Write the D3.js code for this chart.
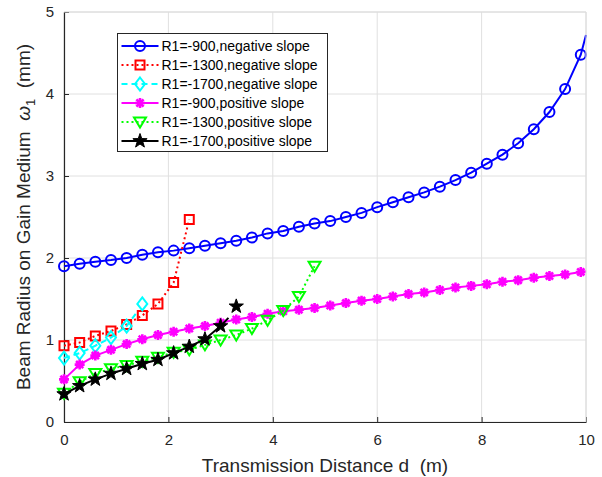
<!DOCTYPE html>
<html>
<head>
<meta charset="utf-8">
<script src="https://cdn.jsdelivr.net/npm/d3@7"></script>
<style>
  body { margin: 0; background: #fff; }
  svg { display: block; font-family: "Liberation Sans", Arial, Helvetica, sans-serif; }
</style>
</head>
<body>
<svg id="chart" width="602" height="477"></svg>
<script>
// transmission distance grid (m)
var dLong = [0, 0.3, 0.6, 0.9, 1.2, 1.5, 1.8, 2.1, 2.4, 2.7, 3.0, 3.3, 3.6, 3.9, 4.2, 4.5, 4.8,
  5.1, 5.4, 5.7, 6.0, 6.3, 6.6, 6.9, 7.2, 7.5, 7.8, 8.1, 8.4, 8.7, 9.0, 9.3, 9.6, 9.9];
var dRed = [0, 0.3, 0.6, 0.9, 1.2, 1.5, 1.8, 2.1, 2.4];
var dCyan = [0, 0.3, 0.6, 0.9, 1.2, 1.5];
var dGreen = [0, 0.3, 0.6, 0.9, 1.2, 1.5, 1.8, 2.1, 2.4, 2.7, 3.0, 3.3, 3.6, 3.9, 4.2, 4.5, 4.8];
var dBlack = [0, 0.3, 0.6, 0.9, 1.2, 1.5, 1.8, 2.1, 2.4, 2.7, 3.0, 3.3];

// beam radius (mm)
var w900neg = [1.90, 1.93, 1.955, 1.975, 2.00, 2.04, 2.07, 2.09, 2.12, 2.15, 2.18, 2.21, 2.25, 2.30,
  2.33, 2.38, 2.42, 2.45, 2.50, 2.55, 2.62, 2.68, 2.74, 2.80, 2.87, 2.95, 3.04, 3.15, 3.26, 3.40,
  3.57, 3.78, 4.06, 4.48];
var w1300neg = [0.93, 0.97, 1.05, 1.11, 1.19, 1.30, 1.44, 1.70, 2.47];
var w1700neg = [0.78, 0.84, 0.93, 1.03, 1.17, 1.44];
var w900pos = [0.52, 0.70, 0.81, 0.88, 0.95, 1.01, 1.06, 1.10, 1.14, 1.17, 1.21, 1.25, 1.28, 1.32,
  1.35, 1.37, 1.39, 1.42, 1.45, 1.48, 1.50, 1.53, 1.56, 1.58, 1.61, 1.64, 1.66, 1.68, 1.71, 1.73,
  1.76, 1.78, 1.80, 1.83];
var w1300pos = [0.35, 0.49, 0.59, 0.65, 0.69, 0.74, 0.79, 0.85, 0.88, 0.94, 1.00, 1.06, 1.14, 1.24,
  1.36, 1.53, 1.90];
var w1700pos = [0.34, 0.44, 0.52, 0.59, 0.65, 0.71, 0.76, 0.84, 0.92, 1.01, 1.17, 1.41];

// where each line stops (d, w); markerOnly = last marker not joined to the line
var tail900neg = [10, 4.72];
var tail1700neg = [1.41, 1.35];
var tail900pos = [10, 1.84];
var tail1700pos = [3.15, 1.27];

var legendNames = ['R1=-900,negative slope', 'R1=-1300,negative slope', 'R1=-1700,negative slope',
  'R1=-900,positive slope', 'R1=-1300,positive slope', 'R1=-1700,positive slope'];
var xTicks = [0, 2, 4, 6, 8, 10];
var yTicks = [0, 1, 2, 3, 4, 5];

var series = [
  { name: legendNames[0], color: '#0000ff', dash: null, marker: 'circle', d: dLong, w: w900neg, tail: tail900neg },
  { name: legendNames[1], color: '#ff0000', dash: '2,3', marker: 'square', d: dRed, w: w1300neg },
  { name: legendNames[2], color: '#00ffff', dash: '6,4', marker: 'diamond', d: dCyan, w: w1700neg, tail: tail1700neg, markerOnly: true },
  { name: legendNames[3], color: '#ff00ff', dash: null, marker: 'asterisk', d: dLong, w: w900pos, tail: tail900pos },
  { name: legendNames[4], color: '#00ff00', dash: '2,3', marker: 'triangle', d: dGreen, w: w1300pos },
  { name: legendNames[5], color: '#000000', dash: null, marker: 'star', d: dBlack, w: w1700pos, tail: tail1700pos, markerOnly: true }
];

var svg = d3.select('#chart');
var margin = { left: 64, right: 16, top: 12, bottom: 55 };
var W = 602, H = 477;

var x = d3.scaleLinear().domain([0, 10]).range([margin.left, W - margin.right]);
var y = d3.scaleLinear().domain([0, 5]).range([H - margin.bottom, margin.top]);

// grid
svg.append('g').selectAll('line').data(xTicks).enter().append('line')
  .attr('x1', function(d) { return x(d); }).attr('x2', function(d) { return x(d); })
  .attr('y1', y(0)).attr('y2', y(5))
  .attr('stroke', '#e0e0e0').attr('stroke-width', 1);
svg.append('g').selectAll('line').data(yTicks).enter().append('line')
  .attr('y1', function(d) { return y(d); }).attr('y2', function(d) { return y(d); })
  .attr('x1', x(0)).attr('x2', x(10))
  .attr('stroke', '#e0e0e0').attr('stroke-width', 1);

// axes
var xAxis = svg.append('g').attr('transform', 'translate(0,' + y(0) + ')')
  .call(d3.axisBottom(x).tickValues(xTicks).tickFormat(d3.format('d'))
    .tickSizeInner(-5).tickSizeOuter(0).tickPadding(12));
var yAxis = svg.append('g').attr('transform', 'translate(' + x(0) + ',0)')
  .call(d3.axisLeft(y).tickValues(yTicks).tickFormat(d3.format('d'))
    .tickSizeInner(-5).tickSizeOuter(0).tickPadding(10));
[xAxis, yAxis].forEach(function(a) {
  a.select('.domain').attr('stroke', '#262626').attr('stroke-width', 1.2);
  a.selectAll('.tick line').attr('stroke', '#262626');
  a.selectAll('.tick text').attr('fill', '#262626').style('font-size', '15px')
    .style('font-family', '"Liberation Sans", Arial, sans-serif');
});

// marker shapes
function markerPath(type) {
  switch (type) {
    case 'square': return 'M-4.5,-4.5H4.5V4.5H-4.5Z';
    case 'diamond': return 'M0,-6.5L5,0L0,6.5L-5,0Z';
    case 'triangle': return 'M-6,-4.5L6,-4.5L0,5.5Z';
    case 'asterisk': return 'M-5,0H5M0,-5V5M-3.6,-3.6L3.6,3.6M-3.6,3.6L3.6,-3.6';
    case 'star':
      var p = [];
      for (var i = 0; i < 10; i++) {
        var r = i % 2 === 0 ? 7.5 : 3;
        var a = -Math.PI / 2 + i * Math.PI / 5;
        p.push((r * Math.cos(a)).toFixed(2) + ',' + (r * Math.sin(a)).toFixed(2));
      }
      return 'M' + p.join('L') + 'Z';
  }
  return null;
}

function drawMarker(g, type, color, cx, cy) {
  if (type === 'circle') {
    g.append('circle').attr('cx', cx).attr('cy', cy).attr('r', 5)
      .attr('fill', 'none').attr('stroke', color).attr('stroke-width', 2);
    return;
  }
  g.append('path').attr('d', markerPath(type))
    .attr('transform', 'translate(' + cx + ',' + cy + ')')
    .attr('fill', type === 'star' ? color : 'none')
    .attr('stroke', color)
    .attr('stroke-width', type === 'asterisk' ? 2.6 : (type === 'star' ? 1 : 2))
    .attr('stroke-linejoin', 'miter');
}

var line = d3.line().x(function(p) { return x(p[0]); }).y(function(p) { return y(p[1]); });

var plot = svg.append('g');
series.forEach(function(s) {
  var pts = s.d.map(function(d, i) { return [d, s.w[i]]; });
  var linePts = s.markerOnly ? pts.slice(0, -1) : pts.slice();
  if (s.tail) linePts.push(s.tail);
  var g = plot.append('g');
  g.append('path').datum(linePts).attr('d', line)
    .attr('fill', 'none').attr('stroke', s.color).attr('stroke-width', 2)
    .attr('stroke-dasharray', s.dash);
  pts.forEach(function(p) { drawMarker(g, s.marker, s.color, x(p[0]), y(p[1])); });
});

// top/right box edges
svg.append('line').attr('x1', x(0)).attr('x2', x(10)).attr('y1', y(5)).attr('y2', y(5))
  .attr('stroke', '#dcdcdc');
svg.append('line').attr('x1', x(10)).attr('x2', x(10)).attr('y1', y(5)).attr('y2', y(0))
  .attr('stroke', '#dcdcdc');

// legend
var lg = svg.append('g').attr('transform', 'translate(117.5,33.5)');
lg.append('rect').attr('width', 210).attr('height', 118)
  .attr('fill', '#fff').attr('stroke', '#262626').attr('stroke-width', 1);
series.forEach(function(s, i) {
  var yy = 12.5 + i * 19;
  lg.append('line').attr('x1', 4).attr('x2', 41).attr('y1', yy).attr('y2', yy)
    .attr('stroke', s.color).attr('stroke-width', 2).attr('stroke-dasharray', s.dash);
  drawMarker(lg, s.marker, s.color, 22.5, yy);
  lg.append('text').attr('x', 44).attr('y', yy + 5)
    .style('font-size', '14px').attr('fill', '#000').text(s.name);
});

// axis labels
svg.append('text').attr('x', (x(0) + x(10)) / 2).attr('y', 472)
  .attr('text-anchor', 'middle').style('font-size', '19px').attr('fill', '#262626')
  .style('white-space', 'pre')
  .text('Transmission Distance d  (m)');

var yl = svg.append('text')
  .attr('transform', 'translate(30,' + ((y(0) + y(5)) / 2) + ') rotate(-90)')
  .attr('text-anchor', 'middle').style('font-size', '19px').attr('fill', '#262626')
  .style('white-space', 'pre');
yl.append('tspan').text('Beam Radius on Gain Medium  ');
yl.append('tspan').style('font-style', 'italic').text('ω');
yl.append('tspan').attr('dy', 5).style('font-size', '13px').text('1');
yl.append('tspan').attr('dy', -5).text('  (mm)');
</script>
</body>
</html>
